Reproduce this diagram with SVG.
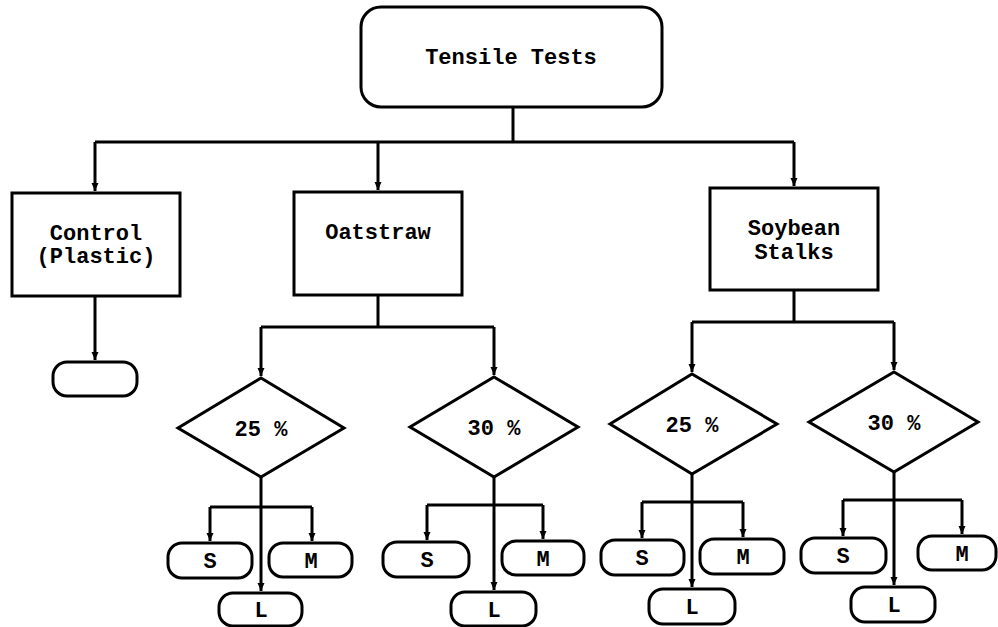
<svg xmlns="http://www.w3.org/2000/svg" width="998" height="627" viewBox="0 0 998 627">
<defs>
<marker id="arr" markerUnits="userSpaceOnUse" markerWidth="10" markerHeight="10" refX="8" refY="4" orient="auto">
<path d="M0,0.5 L8,4 L0,7.5 Z" fill="#000"/>
</marker>
<style>
.b{fill:#fff;stroke:#000;stroke-width:3}
.c{fill:none;stroke:#000;stroke-width:3}
.t{font-family:"Liberation Mono","DejaVu Sans Mono",monospace;font-weight:bold;font-size:22px;text-anchor:middle;fill:#000}
</style>
</defs>
<g id="connectors">
<path class="c" d="M513,107 V142"/>
<path class="c" d="M95,142 H794"/>
<path class="c" d="M95,142 V191" marker-end="url(#arr)"/>
<path class="c" d="M378,142 V190" marker-end="url(#arr)"/>
<path class="c" d="M794,142 V186" marker-end="url(#arr)"/>
<path class="c" d="M95,296 V360" marker-end="url(#arr)"/>
<path class="c" d="M378,295 V327"/>
<path class="c" d="M261,327 H494"/>
<path class="c" d="M261,327 V376" marker-end="url(#arr)"/>
<path class="c" d="M494,327 V375" marker-end="url(#arr)"/>
<path class="c" d="M794,290 V322"/>
<path class="c" d="M692,322 H894"/>
<path class="c" d="M692,322 V372" marker-end="url(#arr)"/>
<path class="c" d="M894,322 V370" marker-end="url(#arr)"/>
<path class="c" d="M261,477 V591" marker-end="url(#arr)"/>
<path class="c" d="M210,507 H312"/>
<path class="c" d="M210,507 V541" marker-end="url(#arr)"/>
<path class="c" d="M312,507 V541" marker-end="url(#arr)"/>
<path class="c" d="M494,477 V590" marker-end="url(#arr)"/>
<path class="c" d="M427,505 H543"/>
<path class="c" d="M427,505 V540" marker-end="url(#arr)"/>
<path class="c" d="M543,505 V539" marker-end="url(#arr)"/>
<path class="c" d="M692,474 V587" marker-end="url(#arr)"/>
<path class="c" d="M642,502 H743"/>
<path class="c" d="M642,502 V538" marker-end="url(#arr)"/>
<path class="c" d="M743,502 V537" marker-end="url(#arr)"/>
<path class="c" d="M894,472 V585" marker-end="url(#arr)"/>
<path class="c" d="M843,500 H962"/>
<path class="c" d="M843,500 V536" marker-end="url(#arr)"/>
<path class="c" d="M962,500 V534" marker-end="url(#arr)"/>
</g>
<g id="tensile">
<rect class="b" x="361" y="7" width="301" height="100" rx="20"/>
<text class="t" x="511" y="64">Tensile Tests</text>
</g>
<g id="control">
<rect class="b" x="12" y="193" width="168" height="103"/>
<text class="t" x="96" y="240">Control</text>
<text class="t" x="96" y="263">(Plastic)</text>
</g>
<g id="oatstraw">
<rect class="b" x="294" y="192" width="168" height="103"/>
<text class="t" x="378" y="239">Oatstraw</text>
</g>
<g id="soybean">
<rect class="b" x="710" y="188" width="168" height="102"/>
<text class="t" x="794" y="235">Soybean</text>
<text class="t" x="794" y="259">Stalks</text>
</g>
<g id="control-result">
<rect class="b" x="53" y="362" width="84" height="34" rx="14"/>
</g>
<g id="oat25">
<path class="b" d="M261,378 L344,428 L261,477 L178,428 Z"/>
<text class="t" x="261" y="436">25 %</text>
</g>
<g id="oat30">
<path class="b" d="M494,377 L578,427 L494,477 L410,427 Z"/>
<text class="t" x="494" y="435">30 %</text>
</g>
<g id="soy25">
<path class="b" d="M692,374 L777,424 L692,474 L610,424 Z"/>
<text class="t" x="692" y="432">25 %</text>
</g>
<g id="soy30">
<path class="b" d="M894,372 L978,422 L894,472 L809,422 Z"/>
<text class="t" x="894" y="430">30 %</text>
</g>
<g id="oat25-S"><rect class="b" x="168" y="543" width="84" height="35" rx="14"/><text class="t" x="210" y="568">S</text></g>
<g id="oat25-M"><rect class="b" x="269" y="543" width="83" height="34" rx="14"/><text class="t" x="311" y="568">M</text></g>
<g id="oat25-L"><rect class="b" x="219" y="593" width="83" height="33" rx="14"/><text class="t" x="261" y="617">L</text></g>
<g id="oat30-S"><rect class="b" x="383" y="542" width="86" height="35" rx="14"/><text class="t" x="427" y="567">S</text></g>
<g id="oat30-M"><rect class="b" x="502" y="541" width="82" height="34" rx="14"/><text class="t" x="543" y="566">M</text></g>
<g id="oat30-L"><rect class="b" x="451" y="592" width="85" height="34" rx="14"/><text class="t" x="494" y="617">L</text></g>
<g id="soy25-S"><rect class="b" x="601" y="540" width="83" height="35" rx="14"/><text class="t" x="642" y="565">S</text></g>
<g id="soy25-M"><rect class="b" x="700" y="539" width="84" height="35" rx="14"/><text class="t" x="743" y="564">M</text></g>
<g id="soy25-L"><rect class="b" x="649" y="589" width="86" height="35" rx="14"/><text class="t" x="692" y="614">L</text></g>
<g id="soy30-S"><rect class="b" x="801" y="538" width="85" height="35" rx="14"/><text class="t" x="843" y="563">S</text></g>
<g id="soy30-M"><rect class="b" x="918" y="536" width="78" height="34" rx="14"/><text class="t" x="962" y="561">M</text></g>
<g id="soy30-L"><rect class="b" x="851" y="587" width="84" height="35" rx="14"/><text class="t" x="894" y="612">L</text></g>
</svg>
